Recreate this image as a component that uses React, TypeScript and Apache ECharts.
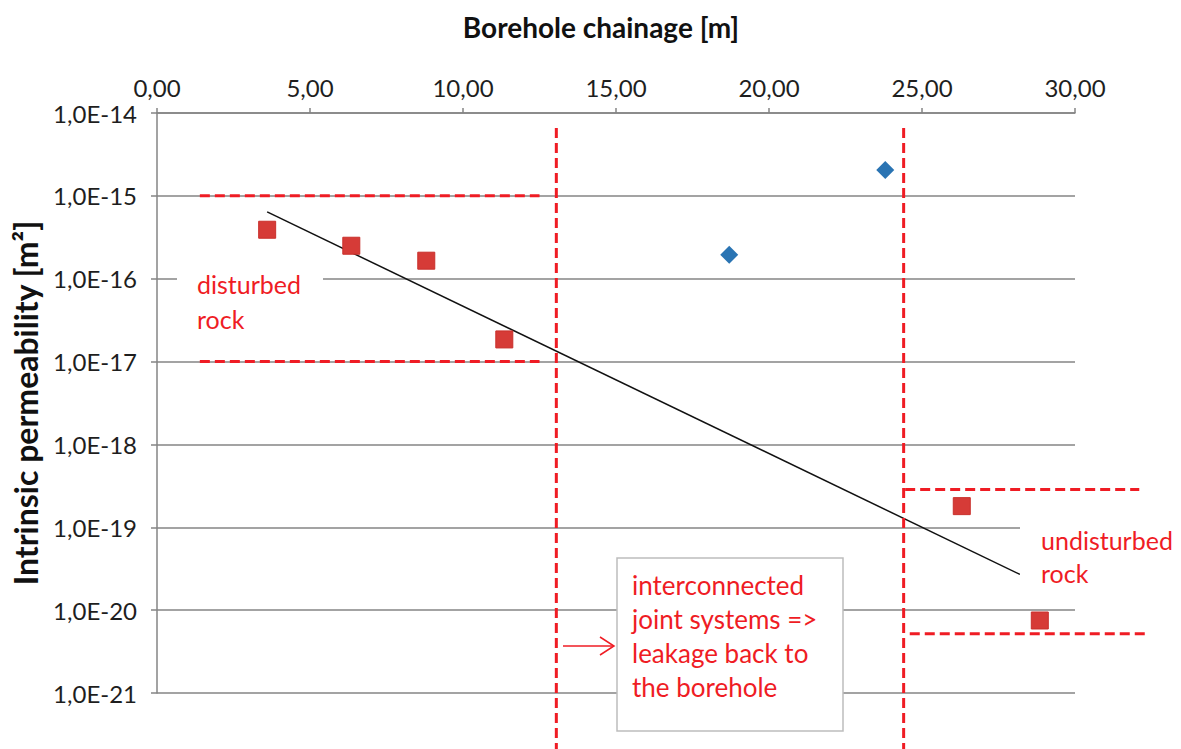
import React, { useEffect, useRef } from "react";
import * as echarts from "echarts";

// ---- data ----
const xTickValues = [0, 5, 10, 15, 20, 25, 30];
const yDecades = [-21, -20, -19, -18, -17, -16, -15, -14];
const measuredRed: [number, number][] = [
  [3.6, 3.9e-16],
  [6.35, 2.5e-16],
  [8.8, 1.65e-16],
  [11.35, 1.85e-17],
  [26.3, 1.8e-19],
  [28.85, 7.5e-21],
];
const measuredBlue: [number, number][] = [
  [18.7, 1.95e-16],
  [23.8, 2.05e-15],
];
const trendLine: [number, number][] = [
  [3.6, 6.4e-16],
  [28.2, 2.7e-20],
];
const zoneBoundaries = [13.05, 24.4];
const disturbedBand = [1e-15, 1e-17];
const disturbedSpan = [1.4, 12.5];
const undisturbedBand = [2.85e-19, 5.2e-21];
const undisturbedSpanTop = [24.45, 32.1];
const undisturbedSpanBottom = [24.6, 32.3];

const RED = "#ef1c24";
const FONT = "Lato";
const GRAY = "#858585";

const toLog = (pts: [number, number][]) => pts.map(([x, y]) => [x, Math.log10(y)]);

export default function App() {
  const ref = useRef<HTMLDivElement>(null);
  useEffect(() => {
    const chart = echarts.init(ref.current!, null, { renderer: "svg" });
    chart.setOption({
      animation: false,
      backgroundColor: "#ffffff",
      grid: { left: 157, top: 113, width: 918, height: 580, containLabel: false, outerBoundsMode: "none" },
      xAxis: {
        type: "value",
        position: "top",
        min: xTickValues[0],
        max: xTickValues[xTickValues.length - 1],
        interval: 5,
        axisLine: { onZero: false, lineStyle: { color: GRAY, width: 1.5 } },
        axisTick: { show: true, length: 5, lineStyle: { color: GRAY, width: 1.5 } },
        splitLine: { show: false },
        axisLabel: {
          color: "#1e1e1e",
          fontFamily: FONT,
          fontSize: 24,
          margin: 14,
          showMinLabel: true,
          showMaxLabel: true,
          formatter: (v: number) => v.toFixed(2).replace(".", ","),
        },
      },
      yAxis: {
        type: "value",
        min: yDecades[0],
        max: yDecades[yDecades.length - 1],
        interval: 1,
        name: "Intrinsic permeability [m²]",
        nameLocation: "middle",
        nameRotate: 90,
        nameGap: 116,
        nameTextStyle: { fontFamily: FONT, fontSize: 32, fontWeight: "bold", color: "#111" },
        axisLine: { show: true, onZero: false, lineStyle: { color: GRAY, width: 1.5 } },
        axisTick: { show: true, length: 6, lineStyle: { color: GRAY, width: 1.5 } },
        splitLine: { show: true, lineStyle: { color: GRAY, width: 1.5 } },
        axisLabel: {
          color: "#1e1e1e",
          fontFamily: FONT,
          fontSize: 24,
          margin: 20,
          showMinLabel: true,
          showMaxLabel: true,
          formatter: (v: number) => "1,0E" + Math.round(v),
        },
      },
      series: [
        {
          type: "line",
          data: toLog(trendLine),
          symbol: "none",
          lineStyle: { color: "#111", width: 1.5 },
          z: 3,
        },
        {
          type: "scatter",
          data: toLog(measuredBlue),
          symbol: "diamond",
          symbolSize: 18,
          itemStyle: { color: "#2a74b3", opacity: 1 },
          z: 4,
        },
        {
          type: "scatter",
          data: toLog(measuredRed),
          symbol: "rect",
          symbolSize: 17,
          itemStyle: { color: "#d63b37", borderColor: "#c9302c", borderWidth: 1, opacity: 1 },
          z: 4,
        },
      ],
    });

    const px = (x: number, y: number) => chart.convertToPixel({ gridIndex: 0 }, [x, Math.log10(y)]) as number[];
    const H = chart.getHeight();
    const dash = { stroke: RED, lineWidth: 3, lineDash: [10, 5] };
    const hline = (x1: number, x2: number, y: number) => {
      const a = px(x1, y);
      const b = px(x2, y);
      return { type: "line", z: 10, shape: { x1: a[0], y1: a[1], x2: b[0], y2: b[1] }, style: dash };
    };
    const elements: any[] = [];
    // white text backgrounds
    elements.push({ type: "rect", z: 5, shape: { x: 177, y: 262, width: 146, height: 72 }, style: { fill: "#fff" } });
    elements.push({ type: "rect", z: 5, shape: { x: 1020, y: 518, width: 161, height: 78 }, style: { fill: "#fff" } });
    disturbedBand.forEach((y) => elements.push(hline(disturbedSpan[0], disturbedSpan[1], y)));
    elements.push(hline(undisturbedSpanTop[0], undisturbedSpanTop[1], undisturbedBand[0]));
    elements.push(hline(undisturbedSpanBottom[0], undisturbedSpanBottom[1], undisturbedBand[1]));
    zoneBoundaries.forEach((x) => {
      const t = px(x, Math.pow(10, -14.18));
      elements.push({ type: "line", z: 10, shape: { x1: t[0], y1: t[1], x2: t[0], y2: H }, style: dash });
    });
    // annotation box
    elements.push({
      type: "rect",
      z: 6,
      shape: { x: 617, y: 558, width: 226, height: 173 },
      style: { fill: "#fff", stroke: "#bdbdbd", lineWidth: 1.5 },
    });
    const boxLines = ["interconnected", "joint systems =>", "leakage back to", "the borehole"];
    boxLines.forEach((t, i) =>
      elements.push({
        type: "text",
        z: 11,
        style: { text: t, x: 632, y: 585 + i * 34, fill: RED, fontFamily: FONT, fontSize: 26, verticalAlign: "middle" },
      })
    );
    // arrow
    elements.push({ type: "line", z: 11, shape: { x1: 563, y1: 646, x2: 614, y2: 646 }, style: { stroke: RED, lineWidth: 1.5 } });
    elements.push({
      type: "polyline",
      z: 11,
      shape: { points: [[600, 637], [614, 646], [600, 655]] },
      style: { stroke: RED, lineWidth: 1.5, fill: null },
    });
    // labels
    ["disturbed", "rock"].forEach((t, i) =>
      elements.push({
        type: "text",
        z: 11,
        style: { text: t, x: 197, y: 284 + i * 35, fill: RED, fontFamily: FONT, fontSize: 25, verticalAlign: "middle" },
      })
    );
    ["undisturbed", "rock"].forEach((t, i) =>
      elements.push({
        type: "text",
        z: 11,
        style: { text: t, x: 1041, y: 540 + i * 33, fill: RED, fontFamily: FONT, fontSize: 25, verticalAlign: "middle" },
      })
    );
    elements.push({
      type: "text",
      z: 11,
      style: {
        text: "Borehole chainage [m]",
        x: 601,
        y: 27,
        fill: "#111",
        fontFamily: FONT,
        fontSize: 28,
        fontWeight: "bold",
        align: "center",
        verticalAlign: "middle",
      },
    });
    chart.setOption({ graphic: { elements } });
    return () => chart.dispose();
  }, []);
  return <div ref={ref} style={{ position: "fixed", left: 0, top: 0, width: 1181, height: 749 }} />;
}
